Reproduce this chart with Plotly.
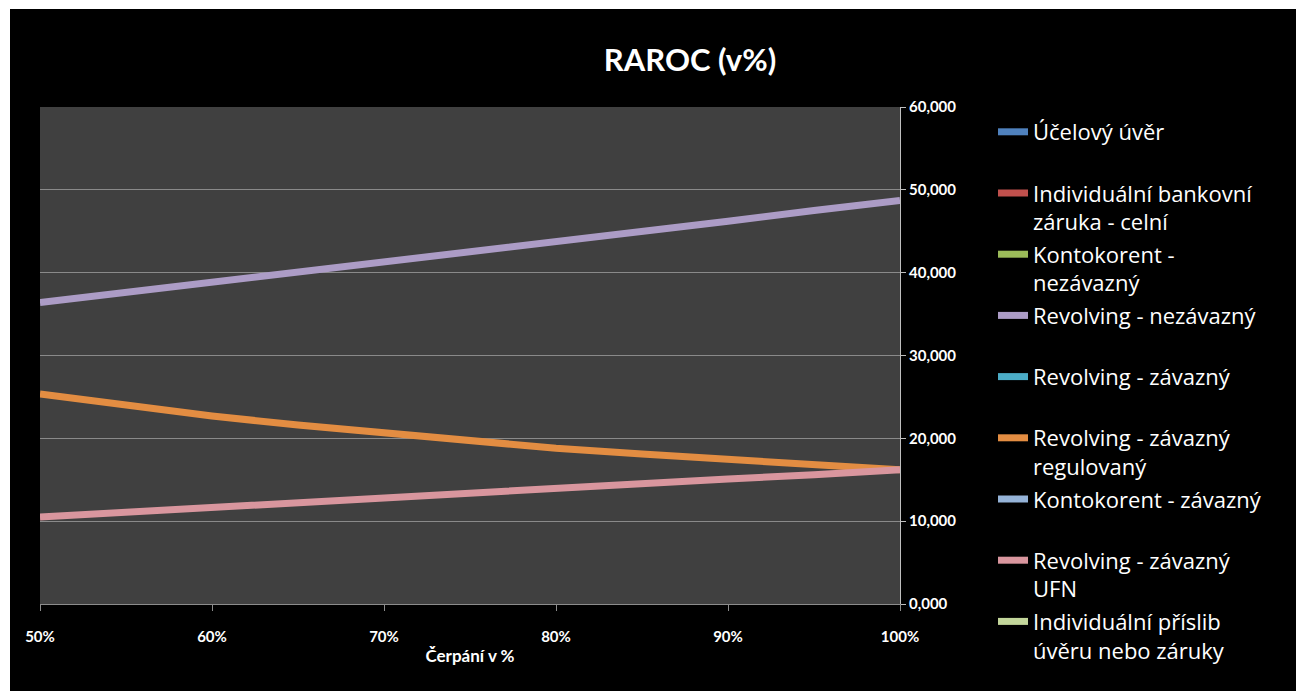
import plotly.graph_objects as go

# Čerpání (drawdown share) on the x axis
cerpani = [0.50, 0.55, 0.60, 0.65, 0.70, 0.75, 0.80, 0.85, 0.90, 0.95, 1.00]

# RAROC in % per product (None = no value for that product)
n = len(cerpani)
ucelovy_uver = [None] * n
bankovni_zaruka_celni = [None] * n
kontokorent_nezavazny = [None] * n
revolving_nezavazny = [36.4, 37.6, 38.8, 40.0, 41.3, 42.5, 43.8, 45.0, 46.2, 47.5, 48.7]
revolving_zavazny = [None] * n
revolving_zavazny_regulovany = [25.35, 24.0, 22.7, 21.6, 20.6, 19.7, 18.8, 18.1, 17.4, 16.8, 16.2]
kontokorent_zavazny = [None] * n
revolving_zavazny_ufn = [10.5, 11.1, 11.6, 12.2, 12.8, 13.4, 13.9, 14.5, 15.1, 15.6, 16.2]
prislib_uveru = [None] * n

series = [
    ("Účelový úvěr<br> ", ucelovy_uver, "#4F81BD"),
    ("Individuální bankovní<br>záruka - celní", bankovni_zaruka_celni, "#C0504D"),
    ("Kontokorent -<br>nezávazný", kontokorent_nezavazny, "#9BBB59"),
    ("Revolving - nezávazný<br> ", revolving_nezavazny, "#AC9CC6"),
    ("Revolving - závazný<br> ", revolving_zavazny, "#4BACC6"),
    ("Revolving - závazný<br>regulovaný", revolving_zavazny_regulovany, "#E38D42"),
    ("Kontokorent - závazný<br> ", kontokorent_zavazny, "#95B3D7"),
    ("Revolving - závazný<br>UFN", revolving_zavazny_ufn, "#D9969E"),
    ("Individuální příslib<br>úvěru nebo záruky", prislib_uveru, "#C3D69B"),
]

fig = go.Figure()
for i, (name, vals, color) in enumerate(series):
    fig.add_trace(go.Scatter(
        x=cerpani,
        y=vals,
        mode="lines",
        name=name,
        legendgroup=f"g{i}",
        line=dict(color=color, width=7),
        showlegend=True,
    ))

W, H = 1296, 691
L, R, T, B = 40, 396, 107, 87

fig.update_layout(
    width=W, height=H,
    margin=dict(l=L, r=R, t=T, b=B, autoexpand=False),
    paper_bgcolor="#000000",
    plot_bgcolor="#404040",
    separators=", ",
    font=dict(family="Lato", color="#FFFFFF"),
    title=dict(
        text="<b>RAROC (v%)</b>",
        font=dict(size=31, color="#FFFFFF", family="Lato"),
        x=690 / W, xanchor="center", xref="container",
        y=1 - 60 / H, yanchor="middle", yref="container",
    ),
    legend=dict(
        x=993 / W, xanchor="left", xref="container",
        y=1 - 111 / H, yanchor="top", yref="container",
        bgcolor="rgba(0,0,0,0)",
        font=dict(size=22, color="#FFFFFF", family="Open Sans"),
        valign="top",
        tracegroupgap=1,
        itemwidth=30,
        maxheight=640,
    ),
    showlegend=True,
)

fig.update_xaxes(
    range=[0.5, 1.0], dtick=0.1, tick0=0.5, tickformat=".0%",
    showgrid=False, zeroline=False,
    showline=True, linecolor="#8C8C8C", linewidth=1,
    ticks="outside", ticklen=6, tickcolor="#8C8C8C",
    tickfont=dict(size=15, color="#FFFFFF", family="Lato", weight="bold"),
    ticklabelstandoff=13,
    title=dict(text="<b>Čerpání v %</b>", font=dict(size=17, color="#FFFFFF", family="Lato"), standoff=6),
)
fig.update_yaxes(
    range=[0, 60], dtick=10, tickformat=".3f", side="right",
    showgrid=True, gridcolor="#8A8A8A", gridwidth=1,
    zeroline=False,
    showline=True, linecolor="#BFBFBF", linewidth=1,
    ticks="outside", ticklen=5, tickcolor="#BFBFBF",
    tickfont=dict(size=15, color="#FFFFFF", family="Lato", weight="bold"),
)

# white page border along the top and left edges
pw, ph = 900 - L, H - T - B
fig.add_shape(type="rect", xref="paper", yref="paper", layer="above",
              x0=-L / pw, x1=(W - L) / pw, y0=(H - B - 9) / ph, y1=(H - B) / ph,
              fillcolor="#FFFFFF", line=dict(width=0))
fig.add_shape(type="rect", xref="paper", yref="paper", layer="above",
              x0=-L / pw, x1=(10 - L) / pw, y0=-B / ph, y1=(H - B) / ph,
              fillcolor="#FFFFFF", line=dict(width=0))

fig.write_html("out.html")
